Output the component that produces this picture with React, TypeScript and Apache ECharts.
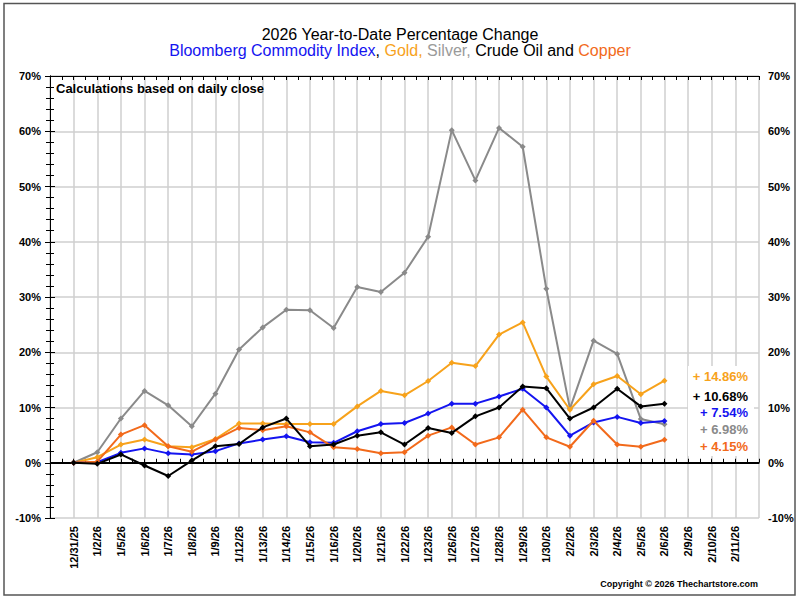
import React, { useEffect, useRef } from "react";
import * as echarts from "echarts";

const categories = [
  "12/31/25", "1/2/26", "1/5/26", "1/6/26", "1/7/26", "1/8/26", "1/9/26", "1/12/26",
  "1/13/26", "1/14/26", "1/15/26", "1/16/26", "1/20/26", "1/21/26", "1/22/26", "1/23/26",
  "1/26/26", "1/27/26", "1/28/26", "1/29/26", "1/30/26", "2/2/26", "2/3/26", "2/4/26",
  "2/5/26", "2/6/26", "2/9/26", "2/10/26", "2/11/26",
];

const bcom = [0, 0.1, 1.8, 2.6, 1.7, 1.5, 2.1, 3.5, 4.2, 4.8, 3.7, 3.6, 5.7, 7.0, 7.2, 8.9, 10.7, 10.7, 12.0, 13.4, 10.0, 4.9, 7.3, 8.3, 7.2, 7.54];
const gold = [0, 1.0, 3.3, 4.2, 3.0, 2.8, 4.3, 7.1, 7.1, 7.0, 7.0, 7.0, 10.2, 13.0, 12.2, 14.8, 18.1, 17.5, 23.2, 25.4, 15.6, 9.6, 14.2, 15.7, 12.4, 14.86];
const silver = [0, 1.9, 8.0, 13.0, 10.4, 6.6, 12.5, 20.5, 24.5, 27.7, 27.6, 24.4, 31.8, 30.9, 34.4, 40.9, 60.2, 51.1, 60.6, 57.2, 31.5, 9.8, 22.1, 19.7, 7.9, 6.98];
const crude = [0, -0.2, 1.5, -0.5, -2.4, 0.4, 3.0, 3.4, 6.4, 8.0, 3.0, 3.3, 4.9, 5.5, 3.3, 6.3, 5.4, 8.4, 10.0, 13.8, 13.5, 8.0, 10.0, 13.4, 10.2, 10.68];
const copper = [0, 0.2, 5.1, 6.8, 3.0, 2.0, 4.2, 6.3, 5.9, 6.6, 5.5, 2.8, 2.5, 1.7, 1.9, 4.9, 6.4, 3.3, 4.6, 9.6, 4.6, 2.9, 7.6, 3.3, 2.9, 4.15];

const endLabels = ["+ 14.86%", "+ 10.68%", "+ 7.54%", "+ 6.98%", "+ 4.15%"];

const C_BLUE = "#1414f0";
const C_GOLD = "#f7a21b";
const C_SILVER = "#8a8a8a";
const C_CRUDE = "#000000";
const C_COPPER = "#f26a1b";

const FONT = "Arial, 'Liberation Sans', sans-serif";

export default function App() {
  const ref = useRef<HTMLDivElement>(null);

  useEffect(() => {
    document.body.style.margin = "0";
    const chart = echarts.init(ref.current!, null, { renderer: "svg" });
    const xCats = ["", ...categories, ""];
    const pad = (arr: number[]) => {
      const out: (number | null)[] = [null, ...arr];
      while (out.length < xCats.length) out.push(null);
      return out;
    };
    const mkSeries = (name: string, data: number[], color: string, z: number, extra: any = {}) => ({
      name,
      type: "line",
      xAxisIndex: 0,
      yAxisIndex: 0,
      data: pad(data),
      symbol: "diamond",
      symbolSize: 6,
      z,
      lineStyle: { color, width: 2 },
      itemStyle: { color },
      connectNulls: false,
      ...extra,
    });

    const yAxisCommon = {
      type: "value",
      min: -10,
      max: 70,
      interval: 10,
      axisLine: { show: true, lineStyle: { color: "#000", width: 1 } },
      axisTick: { show: true, inside: true, length: 5, lineStyle: { color: "#000" } },
      minorTick: { show: true, splitNumber: 5, length: 4, lineStyle: { color: "#000" } },
      axisLabel: {
        formatter: "{value}%",
        fontFamily: FONT,
        fontWeight: "bold",
        fontSize: 11,
        color: "#000",
        margin: 9,
      },
    };

    const labelColors = [C_GOLD, C_CRUDE, C_BLUE, C_SILVER, C_COPPER];
    const labelYs = [376, 396, 412, 429, 446];

    chart.setOption({
      animation: false,
      backgroundColor: "#fff",
      grid: { left: 50, top: 76, right: 41, bottom: 82, containLabel: false },
      title: {
        text: "2026 Year-to-Date Percentage Change",
        left: "center",
        top: 21,
        textStyle: { fontFamily: FONT, fontSize: 16, fontWeight: "normal", color: "#000" },
      },
      xAxis: [
        {
          type: "category",
          data: xCats,
          boundaryGap: false,
          position: "bottom",
          axisLine: { show: true, lineStyle: { color: "#000" } },
          axisTick: { show: false },
          splitLine: { show: true, lineStyle: { color: "#cfcfcf", width: 1.5 } },
          axisLabel: {
            interval: 0,
            rotate: 90,
            fontFamily: FONT,
            fontWeight: "bold",
            fontSize: 11,
            color: "#000",
            margin: 8,
          },
        },
        {
          type: "value",
          min: 0,
          max: 30,
          interval: 1,
          position: "bottom",
          axisLine: { show: false },
          axisTick: { show: true, inside: true, length: 4, lineStyle: { color: "#000" } },
          minorTick: { show: true, splitNumber: 2, length: 4, lineStyle: { color: "#000" } },
          axisLabel: { show: false },
          splitLine: { show: false },
        },
        {
          type: "value",
          min: 0,
          max: 30,
          interval: 1,
          position: "top",
          axisLine: { show: true, lineStyle: { color: "#000" } },
          axisTick: { show: true, inside: true, length: 4, lineStyle: { color: "#000" } },
          minorTick: { show: true, splitNumber: 2, length: 4, lineStyle: { color: "#000" } },
          axisLabel: { show: false },
          splitLine: { show: false },
        },
      ],
      yAxis: [
        {
          ...yAxisCommon,
          position: "left",
          splitLine: { show: true, lineStyle: { color: "#cfcfcf", width: 1.5 } },
        },
        {
          ...yAxisCommon,
          position: "right",
          splitLine: { show: false },
        },
      ],
      series: [
        mkSeries("Silver", silver, C_SILVER, 2, {
          markLine: {
            silent: true,
            symbol: "none",
            label: { show: false },
            lineStyle: { color: "#000", width: 2, type: "solid" },
            data: [{ yAxis: 0 }],
          },
        }),
        mkSeries("Gold", gold, C_GOLD, 3),
        mkSeries("Bloomberg Commodity Index", bcom, C_BLUE, 4),
        mkSeries("Copper", copper, C_COPPER, 5),
        mkSeries("Crude Oil", crude, C_CRUDE, 6),
      ],
      graphic: [
        {
          type: "rect",
          shape: { x: 4, y: 3.5, width: 791, height: 591.5 },
          style: { fill: "none", stroke: "#555", lineWidth: 1.5 },
          silent: true,
          z: 100,
        },
        {
          type: "text",
          x: 400,
          y: 50,
          style: {
            text: "{b|Bloomberg Commodity Index}{k|, }{g|Gold, }{s|Silver, }{k|Crude Oil and }{c|Copper}",
            align: "center",
            verticalAlign: "middle",
            font: `16px ${FONT}`,
            rich: {
              b: { fill: C_BLUE, fontSize: 16, fontFamily: FONT },
              k: { fill: "#000", fontSize: 16, fontFamily: FONT },
              g: { fill: C_GOLD, fontSize: 16, fontFamily: FONT },
              s: { fill: "#9a9a9a", fontSize: 16, fontFamily: FONT },
              c: { fill: C_COPPER, fontSize: 16, fontFamily: FONT },
            },
          },
          z: 100,
        },
        {
          type: "text",
          x: 56,
          y: 88,
          style: {
            text: "Calculations based on daily close",
            fill: "#000",
            font: `bold 13px ${FONT}`,
            verticalAlign: "middle",
          },
          z: 100,
        },
        {
          type: "rect",
          shape: { x: 688, y: 366, width: 66, height: 90 },
          style: { fill: "#fff" },
          z: 100,
        },
        ...endLabels.map((t, i) => ({
          type: "text",
          x: 748,
          y: labelYs[i],
          style: {
            text: t,
            fill: labelColors[i],
            font: `bold 13px ${FONT}`,
            align: "right",
            verticalAlign: "middle",
          },
          z: 101,
        })),
        {
          type: "text",
          x: 758,
          y: 584,
          style: {
            text: "Copyright © 2026 Thechartstore.com",
            fill: "#000",
            font: `bold 9px ${FONT}`,
            align: "right",
            verticalAlign: "middle",
          },
          z: 100,
        },
      ],
    });
    return () => chart.dispose();
  }, []);

  return <div ref={ref} style={{ width: 800, height: 600 }} />;
}
